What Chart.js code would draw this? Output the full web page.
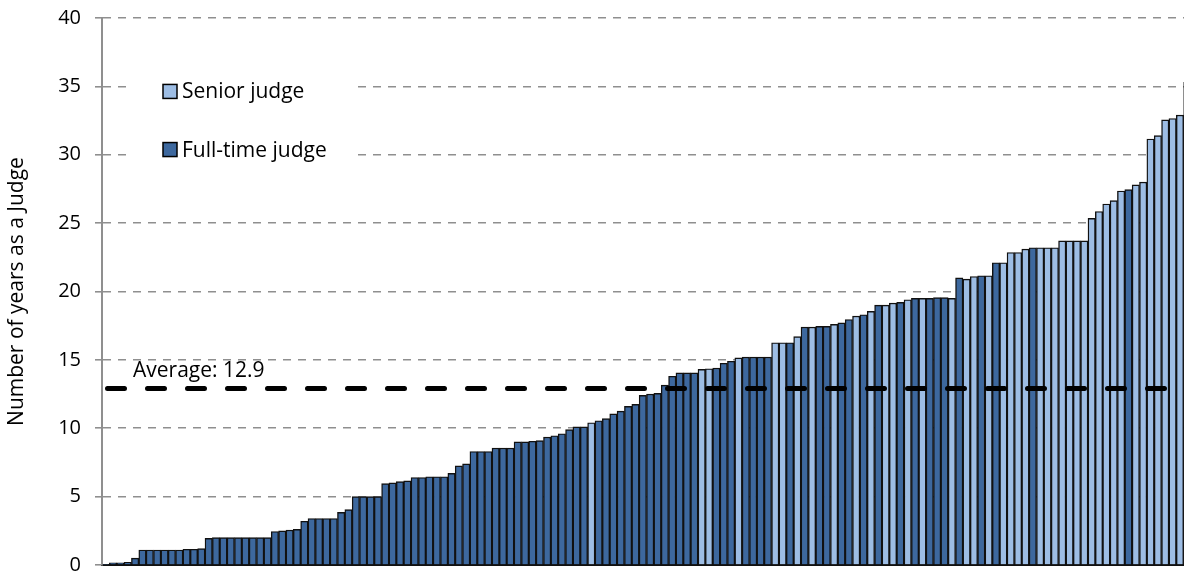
<!DOCTYPE html>
<html>
<head>
<meta charset="utf-8">
<title>Years as a Judge</title>
<script src="https://cdn.jsdelivr.net/npm/chart.js@4"></script>
<style>
    html, body{
        margin:0;
        padding:0;
        background:#ffffff;
        overflow:hidden;
    }
    #chartBox{
        width:1191px;
        height:573px;
    }
</style>
</head>
<body>

<div id="chartBox">
    <canvas id="judgeChart" width="1191" height="573"></canvas>
</div>

<script>

/* DATA */

const years = [
    0.05, 0.15, 0.15, 0.2, 0.5, 1.1, 1.1, 1.1, 1.1, 1.1,
    1.1, 1.15, 1.15, 1.2, 1.95, 2, 2, 2, 2, 2,
    2, 2, 2, 2.45, 2.5, 2.55, 2.6, 3.2, 3.4, 3.4,
    3.4, 3.4, 3.85, 4.05, 5, 5, 5, 5, 5.95, 6,
    6.1, 6.15, 6.4, 6.4, 6.45, 6.45, 6.45, 6.7, 7.25, 7.4,
    8.3, 8.3, 8.3, 8.55, 8.55, 8.55, 9, 9, 9.05, 9.1,
    9.35, 9.45, 9.6, 9.9, 10.1, 10.1, 10.4, 10.55, 10.7, 11.05,
    11.25, 11.6, 11.75, 12.4, 12.5, 12.55, 13.15, 13.8, 14.05, 14.05,
    14.05, 14.3, 14.35, 14.4, 14.75, 14.9, 15.15, 15.2, 15.2, 15.2,
    15.2, 16.25, 16.25, 16.25, 16.7, 17.4, 17.4, 17.45, 17.45, 17.6,
    17.7, 17.95, 18.2, 18.3, 18.55, 19, 19, 19.15, 19.2, 19.4,
    19.5, 19.5, 19.5, 19.55, 19.55, 19.5, 21, 20.9, 21.1, 21.15,
    21.15, 22.1, 22.1, 22.85, 22.85, 23.1, 23.2, 23.2, 23.2, 23.2,
    23.7, 23.7, 23.7, 23.7, 25.35, 25.85, 26.4, 26.65, 27.35, 27.45,
    27.8, 28, 31.15, 31.4, 32.55, 32.65, 32.9, 35.3
];

// S = senior judge, F = full-time judge
const judgeType = [
    "F","F","F","F","F","F","F","F","F","F",
    "F","F","F","F","F","F","F","F","F","F",
    "F","F","F","F","F","F","F","F","F","F",
    "F","F","F","F","F","F","F","F","F","F",
    "F","F","F","F","F","F","F","F","F","F",
    "F","F","F","F","F","F","F","F","F","F",
    "F","F","F","F","F","F","S","F","F","F",
    "F","F","F","F","F","F","F","F","F","F",
    "F","S","S","F","F","F","S","F","F","F",
    "F","S","S","F","S","F","S","F","F","S",
    "F","F","S","F","S","F","S","S","F","S",
    "F","S","F","F","F","S","F","S","S","F",
    "S","F","S","S","S","S","F","S","S","S",
    "S","S","S","S","S","S","S","S","S","F",
    "S","S","S","S","S","S","S","S"
];

const legendNames = ["Senior judge", "Full-time judge"];
const legendKeys = ["S", "F"];

const averageYears = 12.9;
const averageLabel = "Average: 12.9";

const yMin = 0;
const yMax = 40;
const yStep = 5;

const judges = years.map((v, i) => "Judge " + (i + 1));

/* STYLE */

const colors = {
    S: "#9dbde4",
    F: "#3d689e"
};

const fontFamily = "'Open Sans', 'DejaVu Sans', sans-serif";

/* AVERAGE LINE + LEGEND */

const averagePlugin = {
    id: "averageLine",
    afterDatasetsDraw(chart){

        const ctx = chart.ctx;
        const area = chart.chartArea;
        const y = chart.scales.y.getPixelForValue(averageYears);

        ctx.save();
        ctx.strokeStyle = "#000000";
        ctx.lineWidth = 5;
        ctx.lineCap = "round";
        ctx.setLineDash([17, 23]);
        ctx.beginPath();
        ctx.moveTo(area.left + 5.5, y);
        ctx.lineTo(area.right, y);
        ctx.stroke();

        ctx.setLineDash([]);
        ctx.fillStyle = "#000000";
        ctx.font = "21px " + fontFamily;
        ctx.textAlign = "left";
        ctx.textBaseline = "alphabetic";
        ctx.fillText(averageLabel, area.left + 31, y - 12);
        ctx.restore();
    }
};

const legendPlugin = {
    id: "boxLegend",
    afterDraw(chart){

        const ctx = chart.ctx;
        const yScale = chart.scales.y;
        const left = chart.chartArea.left;

        ctx.save();

        // white panel hides the gridlines behind the legend
        const panelTop = yScale.getPixelForValue(36.2);
        const panelBottom = yScale.getPixelForValue(28.5);
        ctx.fillStyle = "#ffffff";
        ctx.fillRect(left + 31, panelTop, 225, panelBottom - panelTop);

        const rows = [yScale.getPixelForValue(34.63), yScale.getPixelForValue(30.38)];

        legendKeys.forEach((key, i) => {

            const rowY = rows[i];

            ctx.fillStyle = colors[key];
            ctx.fillRect(left + 61, rowY - 7, 14, 14);
            ctx.strokeStyle = "#000000";
            ctx.lineWidth = 1.5;
            ctx.strokeRect(left + 61, rowY - 7, 14, 14);

            ctx.fillStyle = "#000000";
            ctx.font = "21px " + fontFamily;
            ctx.textAlign = "left";
            ctx.textBaseline = "middle";
            ctx.fillText(legendNames[i], left + 80, rowY + 1);
        });

        ctx.restore();
    }
};

/* CHART */

const ctx = document.getElementById("judgeChart");

const judgeChart = new Chart(ctx, {
    type: "bar",
    data: {
        labels: judges,
        datasets: [{
            label: "Years as a judge",
            data: years,
            backgroundColor: judgeType.map(t => colors[t]),
            borderColor: "#111111",
            borderWidth: 1.4,
            barPercentage: 1,
            categoryPercentage: 1
        }]
    },
    options: {
        responsive: false,
        animation: false,
        devicePixelRatio: 1,
        layout: {
            padding: { top: 18, right: 0, bottom: 8, left: 0 }
        },
        plugins: {
            legend: { display: false },
            tooltip: { enabled: false }
        },
        scales: {
            x: {
                afterFit(scale){
                    scale.height = 0;
                    scale.paddingLeft = 0;
                    scale.paddingRight = 0;
                },
                ticks: { display: false },
                grid: { display: false, drawTicks: false },
                border: { color: "#111111", width: 2 }
            },
            y: {
                min: yMin,
                max: yMax,
                afterFit(scale){
                    // fixed axis width, and no extra room for the end labels
                    scale.width = 102;
                    scale.paddingTop = 0;
                    scale.paddingBottom = 0;
                },
                ticks: {
                    stepSize: yStep,
                    padding: 14,
                    color: "#000000",
                    font: { family: fontFamily, size: 20 }
                },
                grid: {
                    color: "#8f8f8f",
                    lineWidth: 1.6,
                    tickLength: 7,
                    tickBorderDash: [],
                    tickColor: "#8f8f8f",
                    tickWidth: 1.6
                },
                border: { color: "#8f8f8f", width: 2, dash: [8, 7] },
                title: {
                    display: true,
                    text: "Number of years as a Judge",
                    color: "#000000",
                    font: { family: fontFamily, size: 21 },
                    padding: { top: 4, bottom: 0 }
                }
            }
        }
    },
    plugins: [averagePlugin, legendPlugin]
});

</script>
</body>
</html>
